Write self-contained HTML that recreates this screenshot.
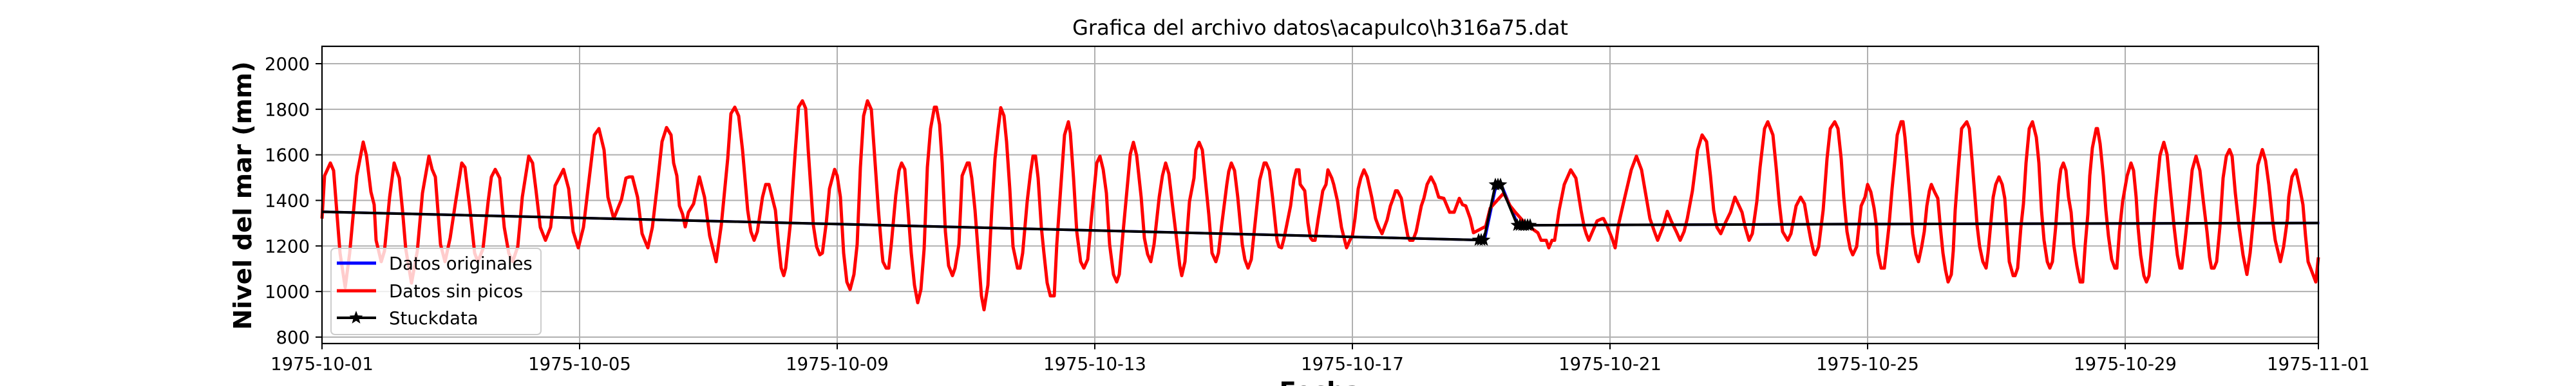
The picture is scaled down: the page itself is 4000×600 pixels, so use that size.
<!DOCTYPE html>
<html><head><meta charset="utf-8"><title>Grafica del archivo</title>
<style>
html,body{margin:0;padding:0;background:#fff;width:4000px;height:600px;overflow:hidden;}
svg{display:block;overflow:hidden;font-family:"DejaVu Sans","Liberation Sans",sans-serif;}
</style></head>
<body>
<svg id="chart" width="4000" height="600" viewBox="0 0 4000 600" xmlns="http://www.w3.org/2000/svg">
  <rect x="0" y="0" width="4000" height="600" fill="#fff"/>
  <g id="grid"></g>
  <g id="series"></g>
  <rect x="500" y="72" width="3100" height="462" fill="none" stroke="#000" stroke-width="2.2"/>
  <g id="ticks"></g>
  <text x="2050" y="54" font-size="32" text-anchor="middle">Grafica del archivo datos\acapulco\h316a75.dat</text>
  <text x="0" y="0" font-size="38.5" font-weight="bold" text-anchor="middle" transform="translate(390,304) rotate(-90)">Nivel del mar (mm)</text>
  <text x="2050" y="621" font-size="38.5" font-weight="bold" text-anchor="middle">Fecha</text>
  <g id="legend">
    <rect x="514" y="386" width="326" height="134" rx="6" fill="#fff" fill-opacity="0.8" stroke="#cccccc" stroke-width="2"/>
    <line x1="523" y1="409" x2="584" y2="409" stroke="#0000ff" stroke-width="5"/>
    <text x="604" y="419" font-size="27.5">Datos originales</text>
    <line x1="523" y1="452" x2="584" y2="452" stroke="#ff0000" stroke-width="5"/>
    <text x="604" y="462" font-size="27.5">Datos sin picos</text>
    <line x1="523" y1="494" x2="584" y2="494" stroke="#000" stroke-width="4"/>
    <g id="legendStar"></g>
    <text x="604" y="504" font-size="27.5">Stuckdata</text>
  </g>
</svg>
<script>
// ---- data ----
const yTicks = [800, 1000, 1200, 1400, 1600, 1800, 2000];
const xTickDays = [0, 4, 8, 12, 16, 20, 24, 28, 31];
const xTickLabels = ["1975-10-01","1975-10-05","1975-10-09","1975-10-13","1975-10-17","1975-10-21","1975-10-25","1975-10-29","1975-11-01"];

const redDays = [
0,0.04,0.13,0.18,0.28,0.36,0.43,0.54,0.64,0.69,
0.76,0.81,0.84,0.92,0.97,1.05,1.12,1.20,1.25,1.30,
1.39,1.48,1.56,1.66,1.71,1.76,1.84,1.91,1.99,2.07,
2.17,2.22,2.30,2.37,2.42,2.50,2.58,2.63,2.69,2.76,
2.83,2.90,2.96,3.04,3.11,3.21,3.27,3.32,3.39,3.47,
3.55,3.62,3.75,3.83,3.90,3.98,4.06,4.13,4.23,4.30,
4.38,4.44,4.53,4.65,4.72,4.77,4.82,4.90,4.97,5.06,
5.13,5.20,5.28,5.35,5.42,5.46,5.51,5.55,5.60,5.64,
5.69,5.77,5.86,5.94,6.02,6.12,6.20,6.30,6.35,6.41,
6.47,6.53,6.61,6.66,6.71,6.76,6.84,6.89,6.94,7.04,
7.09,7.13,7.17,7.20,7.27,7.35,7.40,7.46,7.51,7.55,
7.63,7.68,7.73,7.77,7.83,7.88,7.96,
8.00,8.05,8.10,8.15,8.20,8.26,8.31,8.36,8.41,8.47,
8.53,8.57,8.64,8.69,8.71,8.76,8.80,8.84,8.91,8.96,
9.00,9.05,9.10,9.15,9.20,9.25,9.30,9.35,9.40,9.45,
9.51,9.54,9.59,9.63,9.68,9.73,9.79,9.83,9.89,9.94,
10.02,10.05,10.09,10.14,10.19,10.24,10.28,10.34,10.40,10.45,
10.50,10.54,10.59,10.63,10.68,10.73,10.80,10.84,10.88,10.95,
11.00,11.04,11.08,11.12,11.17,11.21,11.26,11.31,11.37,11.41,
11.47,11.53,11.59,11.62,11.67,11.72,11.78,11.83,11.89,11.95,
12.03,12.08,12.13,12.18,12.23,12.29,12.34,12.38,12.44,12.52,
12.55,12.60,12.65,12.72,12.77,12.82,12.87,12.92,13.00,13.05,
13.10,13.15,13.20,13.28,13.32,13.35,13.40,13.47,13.54,13.57,
13.62,13.67,13.71,13.77,13.82,13.88,13.92,13.97,14.05,14.08,
14.12,14.17,14.22,14.29,14.33,14.38,14.43,14.51,14.56,14.63,
14.66,14.71,14.76,14.83,14.86,14.90,14.94,15.04,15.09,15.13,
15.17,15.19,15.26,15.31,15.35,15.38,15.42,15.47,15.54,15.59,
15.62,15.68,15.71,15.77,15.83,15.88,15.91,15.96,
16.00,16.04,16.09,16.13,16.18,16.23,16.30,16.36,16.41,16.46,
16.54,16.59,16.64,16.67,16.70,16.76,16.81,16.86,16.89,16.94,
16.99,17.07,17.11,17.16,17.22,17.28,17.34,17.42,17.51,17.58,
17.66,17.71,17.76,17.83,17.88,18.07,18.14,18.35,18.45,18.53,
18.65,18.76,18.88,18.93,19.01,19.05,19.10,19.14,19.21,19.29,
19.39,19.47,19.55,19.60,19.63,19.67,19.72,19.80,19.88,19.90,
19.95,20.03,20.08,20.13,20.23,20.33,20.41,20.49,20.54,20.62,
20.69,20.74,20.82,20.89,20.95,21.03,21.09,21.15,21.20,21.28,
21.36,21.43,21.50,21.56,21.61,21.66,21.72,21.79,21.87,21.94,
21.99,22.05,22.10,22.16,22.21,22.28,22.33,22.40,22.45,22.53,
22.58,22.63,22.68,22.76,22.81,22.89,22.96,23.02,23.07,23.12,
23.17,23.19,23.24,23.31,23.37,23.42,23.49,23.54,23.59,23.63,
23.68,23.73,23.77,23.83,23.90,23.96,
24.00,24.05,24.10,24.14,24.16,24.21,24.26,24.29,24.33,24.38,
24.42,24.46,24.52,24.55,24.58,24.62,24.66,24.70,24.75,24.79,
24.84,24.88,24.92,24.96,24.99,25.04,25.09,25.13,25.17,25.21,
25.25,25.30,25.33,25.36,25.41,25.46,25.54,25.58,25.62,25.67,
25.70,25.74,25.79,25.84,25.87,25.91,25.95,25.99,26.04,26.09,
26.13,26.16,26.20,26.26,26.29,26.33,26.38,26.42,26.46,26.51,
26.56,26.62,26.66,26.70,26.74,26.79,26.83,26.87,26.92,26.97,
27.00,27.04,27.08,27.12,27.16,27.20,27.25,27.30,27.34,27.38,
27.42,27.45,27.49,27.55,27.57,27.61,27.66,27.70,27.74,27.79,
27.84,27.87,27.91,27.96,28.03,28.09,28.13,28.17,28.20,28.24,
28.29,28.33,28.37,28.42,28.47,28.54,28.60,28.65,28.70,28.76,
28.81,28.85,28.88,28.93,28.98,29.04,29.10,29.16,29.21,29.27,
29.31,29.34,29.38,29.42,29.47,29.52,29.57,29.62,29.66,29.71,
29.77,29.83,29.89,29.94,30.01,30.06,30.13,30.18,30.23,30.29,
30.33,30.41,30.46,30.52,30.54,30.59,30.65,30.70,30.76,30.80,
30.84,30.89,30.96,31.00
];
const redMm = [
1320,1508,1564,1531,1169,1018,1169,1508,1656,1597,
1437,1381,1225,1131,1178,1414,1564,1498,1357,1188,
1037,1178,1432,1594,1536,1503,1207,1131,1235,1385,
1564,1545,1357,1169,1131,1188,1395,1503,1536,1498,
1282,1169,1131,1197,1414,1594,1564,1451,1282,1225,
1282,1465,1536,1451,1263,1192,1282,1451,1687,1715,
1621,1414,1320,1404,1498,1503,1503,1414,1254,1192,
1282,1451,1658,1720,1687,1564,1508,1376,1339,1284,
1348,1385,1503,1414,1244,1131,1291,1583,1781,1809,
1771,1621,1357,1263,1225,1263,1414,1470,1470,1357,
1207,1103,1070,1103,1291,1621,1809,1837,1804,1621,
1291,1197,1161,1169,1301,1451,1536,
1508,1414,1169,1042,1009,1075,1207,1545,1771,1837,
1799,1640,1357,1188,1131,1103,1103,1207,1423,1531,
1564,1536,1357,1169,1028,951,1009,1188,1545,1715,
1809,1809,1733,1564,1263,1113,1070,1103,1207,1508,
1564,1564,1498,1357,1169,981,920,1028,1357,1583,
1715,1807,1771,1658,1451,1197,1103,1103,1169,1395,
1517,1594,1594,1498,1282,1169,1038,981,981,1207,
1451,1687,1745,1696,1498,1263,1131,1103,1141,1329,
1564,1594,1536,1432,1207,1075,1042,1075,1263,1508,
1602,1655,1597,1414,1235,1164,1131,1207,1414,1508,
1564,1517,1395,1207,1113,1070,1131,1395,1498,1621,
1655,1621,1508,1339,1169,1131,1169,1291,1470,1527,
1564,1531,1414,1207,1141,1103,1141,1357,1489,1564,
1564,1531,1414,1225,1197,1192,1235,1376,1489,1534,
1534,1470,1442,1301,1235,1225,1225,1320,1442,1470,
1534,1498,1470,1395,1282,1225,1192,1225,
1244,1320,1451,1498,1534,1503,1414,1320,1282,1254,
1315,1376,1414,1442,1442,1409,1320,1244,1225,1225,
1263,1376,1409,1470,1503,1470,1414,1409,1348,1348,
1409,1381,1376,1320,1258,1286,1366,1432,1376,1348,
1310,1282,1258,1225,1225,1192,1225,1225,1357,1470,
1534,1498,1357,1282,1254,1225,1258,1310,1320,1320,
1291,1235,1192,1291,1414,1534,1594,1534,1451,1320,
1263,1225,1282,1352,1310,1263,1225,1263,1320,1442,
1621,1687,1658,1508,1357,1282,1254,1301,1348,1414,
1385,1348,1282,1225,1254,1395,1545,1715,1745,1687,
1545,1385,1263,1225,1254,1376,1414,1385,1301,1225,
1164,1161,1197,1357,1583,1715,1745,1715,1583,1414,
1263,1188,1161,1197,1376,1414,
1470,1437,1367,1282,1169,1103,1103,1178,1282,1451,
1564,1687,1745,1745,1677,1545,1404,1254,1164,1131,
1197,1263,1376,1442,1470,1437,1409,1282,1169,1094,
1042,1075,1178,1357,1545,1715,1745,1715,1583,1404,
1291,1197,1131,1103,1169,1291,1414,1470,1503,1470,
1409,1291,1131,1070,1070,1103,1282,1385,1564,1715,
1745,1677,1564,1357,1225,1131,1103,1131,1282,1470,
1536,1564,1531,1414,1348,1207,1113,1042,1042,1207,
1339,1508,1630,1715,1715,1649,1508,1357,1244,1141,
1103,1103,1263,1395,1508,1564,1531,1414,1282,1160,
1070,1042,1070,1225,1395,1597,1655,1602,1451,1282,
1160,1103,1103,1225,1357,1534,1594,1531,1404,1263,
1150,1103,1103,1131,1282,1498,1594,1623,1594,1432,
1282,1160,1075,1169,1376,1555,1623,1574,1470,1310,
1225,1131,1197,1320,1414,1503,1534,1470,1381,1244,
1131,1094,1042,1150
];

const stuckDays = [0, 8, 16, 17.96, 18.00, 18.04, 18.22, 18.26, 18.30, 18.56, 18.60, 18.64, 18.68, 18.72, 18.76, 23.9, 31];
const stuckMm   = [1350, 1296, 1240, 1226, 1226, 1226, 1469, 1469, 1469, 1291, 1291, 1291, 1291, 1291, 1291, 1296, 1301];
const stuckMarked = [false, false, false, true, true, true, true, true, true, true, true, true, true, true, true, false, false];

// ---- axes ----
const X0 = 500, PXDAY = 100;
function xs(d){ return X0 + d * PXDAY; }
function ys(v){ return 99 + (2000 - v) * 0.35415; }

const NS = "http://www.w3.org/2000/svg";
function mk(tag, attrs, parent){
  const e = document.createElementNS(NS, tag);
  for (const k in attrs) e.setAttribute(k, attrs[k]);
  parent.appendChild(e);
  return e;
}
function starPts(cx, cy, R){
  const r = R * 0.42, p = [];
  for (let i = 0; i < 10; i++){
    const a = -Math.PI/2 + i * Math.PI/5, rr = i % 2 ? r : R;
    p.push((cx + rr*Math.cos(a)).toFixed(1) + "," + (cy + rr*Math.sin(a)).toFixed(1));
  }
  return p.join(" ");
}

const grid = document.getElementById("grid");
const ticks = document.getElementById("ticks");
const series = document.getElementById("series");

yTicks.forEach(v => {
  const y = ys(v);
  const g = mk("line", {x1:500, x2:3600, y1:y, y2:y, stroke:"#b0b0b0", "stroke-width":2}, grid);
  
  
  const t = mk("line", {x1:490, x2:500, y1:y, y2:y, stroke:"#000", "stroke-width":2}, ticks);
  
  
  const l = mk("text", {x:481, y:y+10, "font-size":27.5, "text-anchor":"end"}, ticks);
  l.textContent = v;
  
  
});
xTickDays.forEach((d, i) => {
  const x = xs(d);
  const g = mk("line", {x1:x, x2:x, y1:72, y2:534, stroke:"#b0b0b0", "stroke-width":2}, grid);
  
  
  const t = mk("line", {x1:x, x2:x, y1:534, y2:543, stroke:"#000", "stroke-width":2}, ticks);
  
  
  const l = mk("text", {x:x, y:575, "font-size":27.5, "text-anchor":"middle"}, ticks);
  l.textContent = xTickLabels[i];
  
  
});

function pathFrom(days, vals, dx){
  const n = Math.min(days.length, vals.length);
  let d = "";
  for (let i = 0; i < n; i++) d += (i ? "L" : "M") + (xs(days[i]) + (dx||0)).toFixed(1) + " " + ys(vals[i]).toFixed(1);
  return d;
}

const blue = mk("path", {d: pathFrom(stuckDays, stuckMm, 1.5), fill:"none", stroke:"#0000ff", "stroke-width":4, "stroke-linejoin":"round"}, series);



const red = mk("path", {d: pathFrom(redDays, redMm), fill:"none", stroke:"#ff0000", "stroke-width":5, "stroke-linejoin":"round"}, series);



const black = mk("path", {d: pathFrom(stuckDays, stuckMm), fill:"none", stroke:"#000", "stroke-width":4, "stroke-linejoin":"round"}, series);



for (let i = 0; i < stuckDays.length; i++){
  if (!stuckMarked[i]) continue;
  const s = mk("polygon", {points: starPts(xs(stuckDays[i]), ys(stuckMm[i]), 11), fill:"#000"}, series);
  
  
}

const ls = mk("polygon", {points: starPts(553, 494, 11), fill:"#000"}, document.getElementById("legendStar"));


</script>
</body></html>
